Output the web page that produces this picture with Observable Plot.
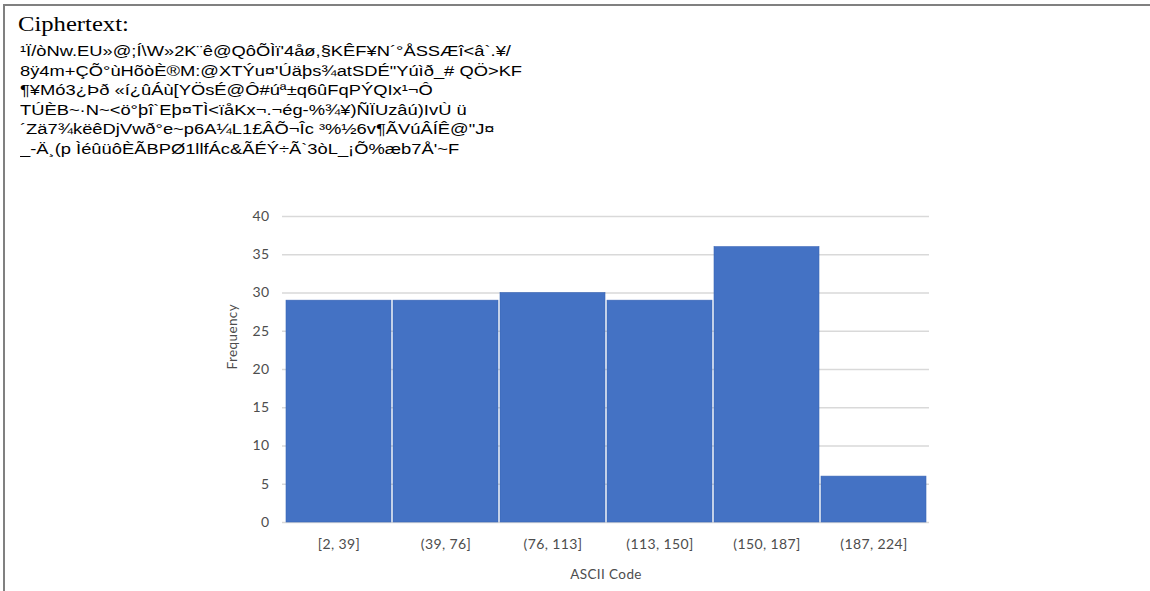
<!DOCTYPE html>
<html>
<head>
<meta charset="utf-8">
<script src="https://cdn.jsdelivr.net/npm/d3@7"></script>
<script src="https://cdn.jsdelivr.net/npm/@observablehq/plot@0.6"></script>
<style>
  html, body { margin: 0; padding: 0; background: #fff; width: 1150px; height: 591px; overflow: hidden; }
  #frame { position: absolute; left: 3px; top: 4px; width: 1200px; height: 700px;
           border-top: 2px solid #808080; border-left: 2px solid #808080; }
  #label { position: absolute; left: 18px; top: 12.5px; font-family: "Liberation Serif", serif;
           font-size: 22px; line-height: 22px; color: #000; white-space: pre;
           transform: scaleX(1.12); transform-origin: left top; }
  #cipherClip { position: absolute; left: 20px; top: 42px; width: 511px; height: 125px; overflow: hidden; }
  #cipher { font-family: "Liberation Sans", Arial, sans-serif; font-size: 14px; line-height: 19.6px;
            color: #000; transform: scaleX(1.31); transform-origin: left top; width: 600px; }
  #cipher div { white-space: pre; }
  #chart { position: absolute; left: 200px; top: 195px; }
  #chart svg text { letter-spacing: 0.4px; }
</style>
</head>
<body>
<div id="frame"></div>
<div id="label">Ciphertext:</div>
<div id="cipherClip"><div id="cipher"></div></div>
<div id="chart"></div>
<script>
const cipherLines = [
  "\u00b9\u00cf/\u00f2Nw.EU\u00bb@;\u00cd\\W\u00bb2K\u00a8\u00ea@Q\u00f4\u00d5\u00cc\u00ef'4\u00e5\u00f8,\u00a7K\u00caF\u00a5N\u00b4\u00b0\u00c5SS\u00c6\u00ee<\u00e2`.\u00a5/",
  "8\u00ff4m+\u00c7\u00d5\u00b0\u00f9H\u00f5\u00f2\u00c8\u00aeM:@XT\u00ddu\u00a4'\u00da\u00e4\u00fes\u00beatSD\u00c9\"Y\u00fa\u00ec\u00f0_# Q\u00d6>KF",
  "\u00b6\u00a5M\u00f33\u00bf\u00de\u00f0 \u00ab\u00ed\u00bf\u00fb\u00c1\u00f9[Y\u00d6s\u00c9@\u00d4#\u00fa\u00aa\u00b1q6\u00fbFqP\u00ddQIx\u00b9\u00ac\u00d4",
  "T\u00da\u00c8B~\u00b7N~<\u00f6\u00b0\u00fe\u00ee`E\u00fe\u00a4T\u00cc<\u00ef\u00e5Kx\u00ac.\u00ac\u00e9g-%\u00be\u00a5)\u00d1\u00cfUz\u00e2\u00fa)Iv\u00d9 \u00fc",
  "\u00b4Z\u00e47\u00bek\u00eb\u00eaDjVw\u00f0\u00b0e~p6A\u00bcL1\u00a3\u00c2\u00d5\u00ac\u00cec \u00b3%\u00bd6v\u00b6\u00c3V\u00fa\u00c2\u00cd\u00ca@\"J\u00a4",
  "_-\u00c4\u00b8(p \u00cc\u00e9\u00fb\u00fc\u00f4\u00c8\u00c3BP\u00d81llf\u00c1c&\u00c3\u00c9\u00dd\u00f7\u00c3`3\u00f2L_\u00a1\u00d5%\u00e6b7\u00c5'~F"
];

const bins = ["[2, 39]", "(39, 76]", "(76, 113]", "(113, 150]", "(150, 187]", "(187, 224]"];
const counts = [29, 29, 30, 29, 36, 6];
const yTicks = [0, 5, 10, 15, 20, 25, 30, 35, 40];
const xTitle = "ASCII Code";
const yTitle = "Frequency";

const cipherEl = document.getElementById("cipher");
for (const line of cipherLines) {
  const d = document.createElement("div");
  d.textContent = line;
  cipherEl.appendChild(d);
}

const data = bins.map((b, i) => ({bin: b, count: counts[i]}));

const chart = Plot.plot({
  width: 760,
  height: 396,
  marginLeft: 82,
  marginRight: 31,
  marginTop: 21,
  marginBottom: 69,
  style: {fontFamily: "Lato, sans-serif", fontSize: "14px", color: "#4d4d4d", background: "transparent"},
  x: {type: "band", domain: bins, padding: 0, label: null, tickSize: 0, tickPadding: 17},
  y: {domain: [0, 40], ticks: yTicks, label: null, tickSize: 0, tickPadding: 13},
  marks: [
    Plot.gridY(yTicks, {stroke: "#d9d9d9", strokeOpacity: 1, strokeWidth: 1.5}),
    Plot.barY(data, {x: "bin", y: "count", fill: "#4472C4", stroke: "#3b66b6", strokeWidth: 0.6, insetLeft: 1, insetRight: 1}),
    Plot.text([yTitle], {frameAnchor: "left", dx: -50, rotate: -90, fill: "#4d4d4d", fontSize: 13.5}),
    Plot.text([xTitle], {frameAnchor: "bottom", dy: 56, fill: "#4d4d4d", fontSize: 13.5})
  ]
});
document.getElementById("chart").appendChild(chart);
</script>
</body>
</html>
